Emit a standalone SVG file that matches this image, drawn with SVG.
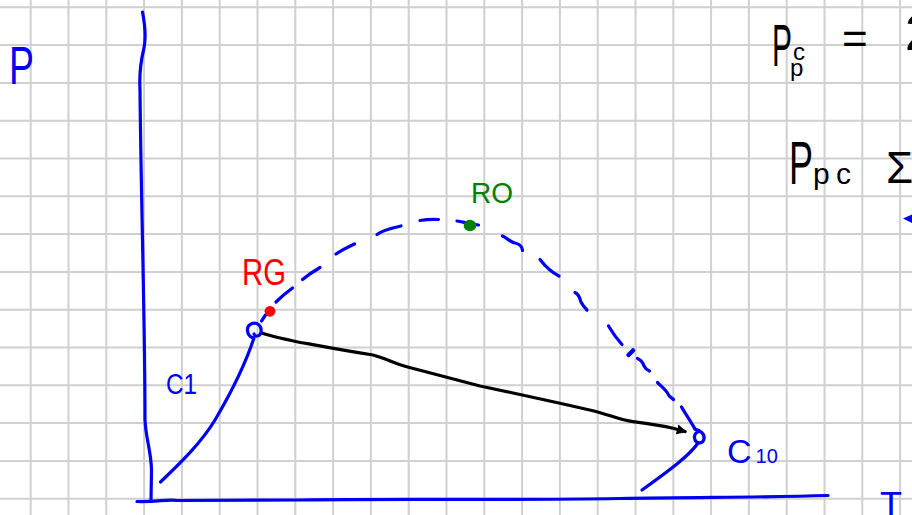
<svg xmlns="http://www.w3.org/2000/svg" width="912" height="515" viewBox="0 0 912 515">
<style>
.grid{stroke:#d0d0d0;stroke-width:2;fill:none}
.pen{fill:none;stroke-width:3.2;stroke-linecap:round;stroke-linejoin:round}
.blue{stroke:#0000f0}
.blk{stroke:#000}
.t{font-family:"Liberation Sans",Arial,sans-serif}
.tb{fill:#0000f0}
.tk{fill:#000}
</style>
<defs>
<marker id="ah" viewBox="0 0 10 10" refX="8" refY="5" markerWidth="3.2" markerHeight="3.2" orient="auto" markerUnits="strokeWidth">
<path d="M0,0 L10,5 L0,10 Z" fill="#000"/>
</marker>
</defs>
<rect width="912" height="515" fill="#fff"/>
<g id="grid">
<path class="grid" d="M30.7,0V515M68.5,0V515M106.3,0V515M144.1,0V515M181.9,0V515M219.7,0V515M257.5,0V515M295.3,0V515M333.1,0V515M370.9,0V515M408.7,0V515M446.5,0V515M484.3,0V515M522.1,0V515M559.9,0V515M597.7,0V515M635.5,0V515M673.3,0V515M711.1,0V515M748.9,0V515M786.7,0V515M824.5,0V515M862.3,0V515M900.1,0V515"/>
<path class="grid" d="M0,7.3H912M0,45.1H912M0,82.9H912M0,120.7H912M0,158.5H912M0,196.3H912M0,234.1H912M0,271.9H912M0,309.7H912M0,347.5H912M0,385.3H912M0,423.1H912M0,460.9H912M0,498.7H912"/>
</g>
<g id="axes">
<path class="pen blue" stroke-width="3.5" d="M142.5,12 C145,25 146,38 144,48 C141,60 139,72 140,90 C141,200 145,320 145,420 C146,440 151,450 151.5,470 L151,501"/>
<path class="pen blue" stroke-width="3.5" d="M137,501.5 C160,502 165,499 178,500.5 L300,500 C400,498.5 500,500.5 620,498.5 C700,497 760,497.5 828,495.5"/>
<text class="t tb" x="9" y="84" font-size="54" textLength="25" lengthAdjust="spacingAndGlyphs">P</text>
<text class="t tb" x="880" y="518" font-size="36">T</text>
</g>
<g id="connectors">
<g id="dew-curve" class="pen blue">
<path d="M261.5,321 L265.5,315"/>
<path d="M276,302 C281,297 287,292 292.5,288"/>
<path d="M302.5,279.5 C308,275 314,271 320,267.5"/>
<path d="M336,254 C342,250 348,247 354.5,244"/>
<path d="M377,234.5 C383,230 392,228 401,226"/>
<path d="M420,220.5 C426,219.5 432,219 438.5,219.5"/>
<path d="M457,221 C463,222 470,224 478.5,225"/>
<path d="M502.5,236 C507,238 510,242 515,243 C520,244 522,246 522.5,250.5"/>
<path d="M540,259.5 C545,266 551,272 559,276"/>
<path d="M575,292.5 C580,295 580,300 581,302 C583,306 585,308 587,310"/>
<path d="M608.5,326 C612,332 617,339 622,344.5"/>
<path d="M628.5,355 L633,350.5" stroke-width="4.5"/>
<path d="M637.5,358.5 C641,360 643,363 644,366 C645,368 647,370 649.5,371"/>
<path d="M657.5,382.5 C662,387 667,391 668,394 C669,397 672,398 673.5,399.5"/>
<path d="M681.5,407 C685,413 690,420 695,429"/>
</g>
<path id="c1-line" class="pen blue" d="M160.5,482 C175,468 200,445 215,420 C228,398 245,365 254,338"/>
<path id="c10-line" class="pen blue" d="M698,443 C690,455 670,470 642,490"/>
<path id="tie-line" class="pen blk" marker-end="url(#ah)" d="M262,333 C270,336 280,338 297,341.7 C315,345 340,350 373,355 C385,358 395,364 406.7,366.7 L446.7,377.3 L480,386 L513,393 L560,403.3 L593,410.7 C610,415 620,420 633,421.7 C650,424 663,426 673,428.3 L685,431.5"/>
</g>
<g id="node-c1">
<path class="pen blue" d="M253,338 C246,335 246,326 251,324 C257,321 262,326 261,332 C260,337 255,337 254,334"/>
<text class="t tb" x="166" y="394" font-size="30" textLength="31" lengthAdjust="spacingAndGlyphs">C1</text>
</g>
<g id="node-c10">
<path class="pen blue" d="M695,429 C700,430 705,434 704,439 C703,444 697,444 695,440 C693,436 696,432 698,432"/>
<text class="t tb" x="727" y="463" font-size="34">C<tspan font-size="20" dx="4">10</tspan></text>
</g>
<g id="node-rg">
<circle cx="270" cy="311.3" r="5.4" fill="#ff0000"/>
<text class="t" x="242" y="285" font-size="36" fill="#ff0000" textLength="44" lengthAdjust="spacingAndGlyphs">RG</text>
</g>
<g id="node-ro">
<ellipse cx="470" cy="225.5" rx="6.3" ry="5.8" fill="#008000"/>
<text class="t" x="471" y="203" font-size="30" fill="#008000" textLength="42" lengthAdjust="spacingAndGlyphs">RO</text>
</g>
<g id="notes">
<text class="t tk" x="772" y="66" font-size="60" textLength="20" lengthAdjust="spacingAndGlyphs">P</text>
<text class="t tk" font-size="24"><tspan x="793" y="60">c</tspan><tspan x="790" y="76">p</tspan></text>
<text class="t tk" x="842" y="54" font-size="44">=</text>
<text class="t tk" x="905" y="50" font-size="50">2</text>
<text class="t tk" x="789" y="184" font-size="62" textLength="24" lengthAdjust="spacingAndGlyphs">P</text>
<text class="t tk" font-size="30" y="184"><tspan x="813">p</tspan><tspan x="836">c</tspan></text>
<text class="t tk" x="886" y="183" font-size="44">Σ</text>
<path d="M912,214.5 L903,218.5 L912,223 Z" fill="#0000f0"/>
</g>
</svg>
